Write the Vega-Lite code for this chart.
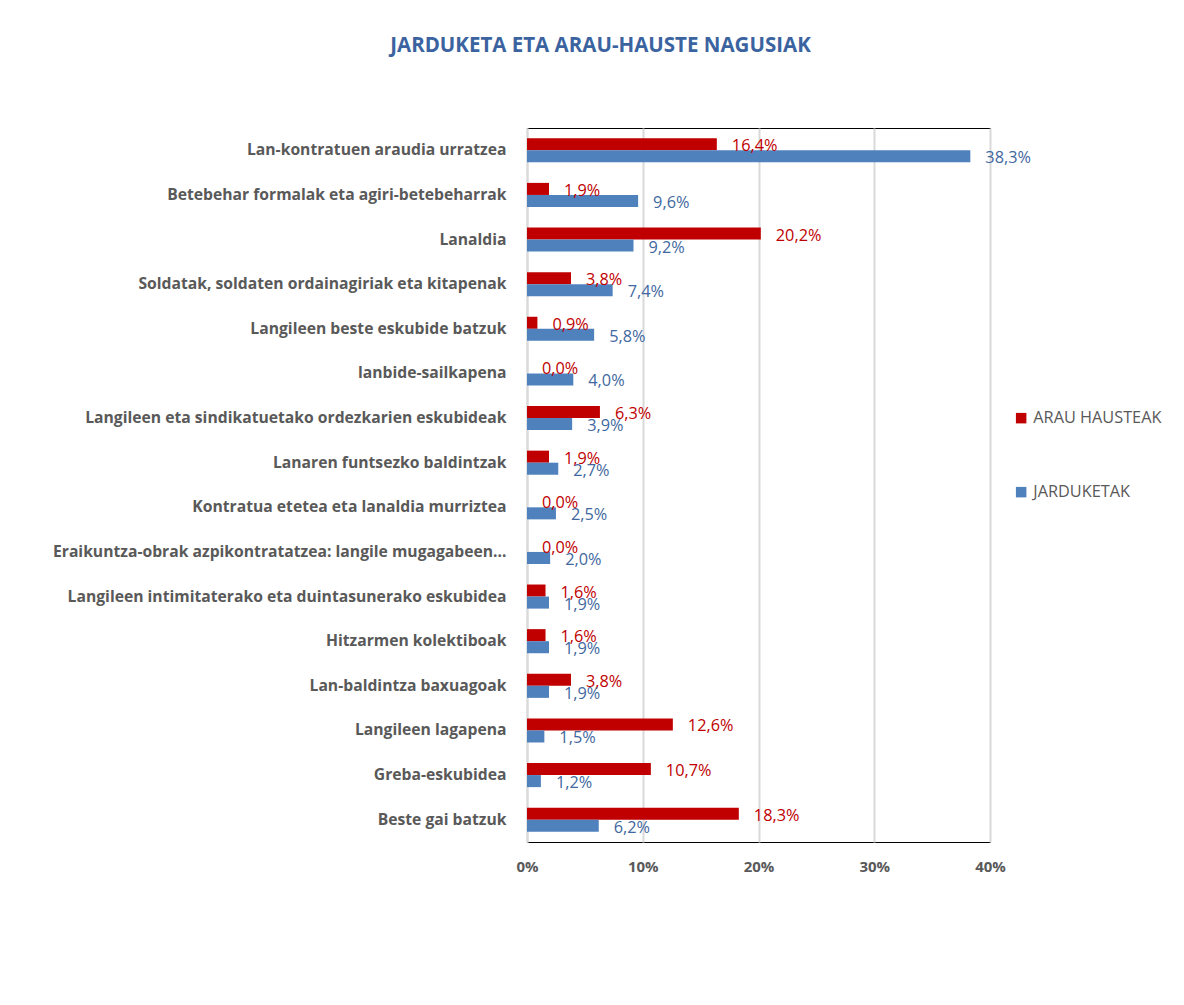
{
  "$schema": "https://vega.github.io/schema/vega-lite/v6.json",
  "width": 463,
  "height": 714,
  "autosize": {"type": "none"},
  "padding": {"left": 527, "top": 128, "right": 194, "bottom": 163},
  "background": "white",
  "config": {
    "locale": {"number": {"decimal": ",", "thousands": ".", "grouping": [3], "currency": ["", " €"]}},
    "view": {"stroke": "#000000", "strokeWidth": 1},
    "font": "Open Sans"
  },
  "title": {
    "text": "JARDUKETA ETA ARAU-HAUSTE NAGUSIAK",
    "font": "Open Sans",
    "fontSize": 20.5,
    "fontWeight": "bold",
    "color": "#3B63A0",
    "anchor": "middle",
    "dx": -158,
    "offset": 72
  },
  "data": {
    "values": [
      {"cat": "Lan-kontratuen araudia urratzea", "series": "ARAU HAUSTEAK", "value": 0.164},
      {"cat": "Lan-kontratuen araudia urratzea", "series": "JARDUKETAK", "value": 0.383},
      {"cat": "Betebehar formalak eta agiri-betebeharrak", "series": "ARAU HAUSTEAK", "value": 0.019},
      {"cat": "Betebehar formalak eta agiri-betebeharrak", "series": "JARDUKETAK", "value": 0.096},
      {"cat": "Lanaldia", "series": "ARAU HAUSTEAK", "value": 0.202},
      {"cat": "Lanaldia", "series": "JARDUKETAK", "value": 0.092},
      {"cat": "Soldatak, soldaten ordainagiriak eta kitapenak", "series": "ARAU HAUSTEAK", "value": 0.038},
      {"cat": "Soldatak, soldaten ordainagiriak eta kitapenak", "series": "JARDUKETAK", "value": 0.074},
      {"cat": "Langileen beste eskubide batzuk", "series": "ARAU HAUSTEAK", "value": 0.009},
      {"cat": "Langileen beste eskubide batzuk", "series": "JARDUKETAK", "value": 0.058},
      {"cat": "lanbide-sailkapena", "series": "ARAU HAUSTEAK", "value": 0.0},
      {"cat": "lanbide-sailkapena", "series": "JARDUKETAK", "value": 0.040},
      {"cat": "Langileen eta sindikatuetako ordezkarien eskubideak", "series": "ARAU HAUSTEAK", "value": 0.063},
      {"cat": "Langileen eta sindikatuetako ordezkarien eskubideak", "series": "JARDUKETAK", "value": 0.039},
      {"cat": "Lanaren funtsezko baldintzak", "series": "ARAU HAUSTEAK", "value": 0.019},
      {"cat": "Lanaren funtsezko baldintzak", "series": "JARDUKETAK", "value": 0.027},
      {"cat": "Kontratua etetea eta lanaldia murriztea", "series": "ARAU HAUSTEAK", "value": 0.0},
      {"cat": "Kontratua etetea eta lanaldia murriztea", "series": "JARDUKETAK", "value": 0.025},
      {"cat": "Eraikuntza-obrak azpikontratatzea: langile mugagabeen…", "series": "ARAU HAUSTEAK", "value": 0.0},
      {"cat": "Eraikuntza-obrak azpikontratatzea: langile mugagabeen…", "series": "JARDUKETAK", "value": 0.020},
      {"cat": "Langileen intimitaterako eta duintasunerako eskubidea", "series": "ARAU HAUSTEAK", "value": 0.016},
      {"cat": "Langileen intimitaterako eta duintasunerako eskubidea", "series": "JARDUKETAK", "value": 0.019},
      {"cat": "Hitzarmen kolektiboak", "series": "ARAU HAUSTEAK", "value": 0.016},
      {"cat": "Hitzarmen kolektiboak", "series": "JARDUKETAK", "value": 0.019},
      {"cat": "Lan-baldintza baxuagoak", "series": "ARAU HAUSTEAK", "value": 0.038},
      {"cat": "Lan-baldintza baxuagoak", "series": "JARDUKETAK", "value": 0.019},
      {"cat": "Langileen lagapena", "series": "ARAU HAUSTEAK", "value": 0.126},
      {"cat": "Langileen lagapena", "series": "JARDUKETAK", "value": 0.015},
      {"cat": "Greba-eskubidea", "series": "ARAU HAUSTEAK", "value": 0.107},
      {"cat": "Greba-eskubidea", "series": "JARDUKETAK", "value": 0.012},
      {"cat": "Beste gai batzuk", "series": "ARAU HAUSTEAK", "value": 0.183},
      {"cat": "Beste gai batzuk", "series": "JARDUKETAK", "value": 0.062}
    ]
  },
  "encoding": {
    "y": {
      "field": "cat",
      "type": "nominal",
      "sort": null,
      "title": null,
      "scale": {"paddingInner": 0.46, "paddingOuter": 0.23},
      "axis": {
        "ticks": false,
        "domainColor": "#d9d9d9",
        "domainWidth": 2,
        "labelFont": "Open Sans",
        "labelFontSize": 15.7,
        "labelFontWeight": "bold",
        "labelColor": "#595959",
        "labelPadding": 21,
        "labelLimit": 500
      }
    },
    "yOffset": {
      "field": "series",
      "type": "nominal",
      "sort": ["ARAU HAUSTEAK", "JARDUKETAK"],
      "scale": {"paddingInner": 0, "paddingOuter": 0}
    },
    "x": {
      "field": "value",
      "type": "quantitative",
      "title": null,
      "scale": {"domain": [0, 0.4], "nice": false},
      "axis": {
        "format": ".0%",
        "values": [0, 0.1, 0.2, 0.3, 0.4],
        "ticks": false,
        "domain": false,
        "labelFlush": false,
        "gridColor": "#d9d9d9",
        "gridWidth": 2,
        "labelFont": "Open Sans",
        "labelFontSize": 15,
        "labelFontWeight": "bold",
        "labelColor": "#595959",
        "labelPadding": 17
      }
    }
  },
  "layer": [
    {
      "mark": {"type": "bar"},
      "encoding": {
        "color": {
          "field": "series",
          "type": "nominal",
          "sort": ["ARAU HAUSTEAK", "JARDUKETAK"],
          "scale": {"domain": ["ARAU HAUSTEAK", "JARDUKETAK"], "range": ["#C00000", "#4F81BD"]},
          "legend": {
            "title": null,
            "orient": "none",
            "legendX": 486,
            "legendY": 282,
            "symbolType": "square",
            "symbolSize": 110,
            "symbolStrokeWidth": 0,
            "labelFont": "Open Sans",
            "labelFontSize": 16.3,
            "labelColor": "#595959",
            "labelOffset": 4,
            "rowPadding": 57
          }
        }
      }
    },
    {
      "mark": {"type": "text", "align": "left", "baseline": "middle", "dx": 15, "dy": 2, "font": "Open Sans", "fontSize": 16.3},
      "encoding": {
        "text": {"field": "value", "type": "quantitative", "format": ".1%"},
        "color": {
          "field": "series",
          "type": "nominal",
          "scale": {"domain": ["ARAU HAUSTEAK", "JARDUKETAK"], "range": ["#C00000", "#3F68A0"]},
          "legend": null
        }
      }
    }
  ],
  "resolve": {"scale": {"color": "independent"}}
}
